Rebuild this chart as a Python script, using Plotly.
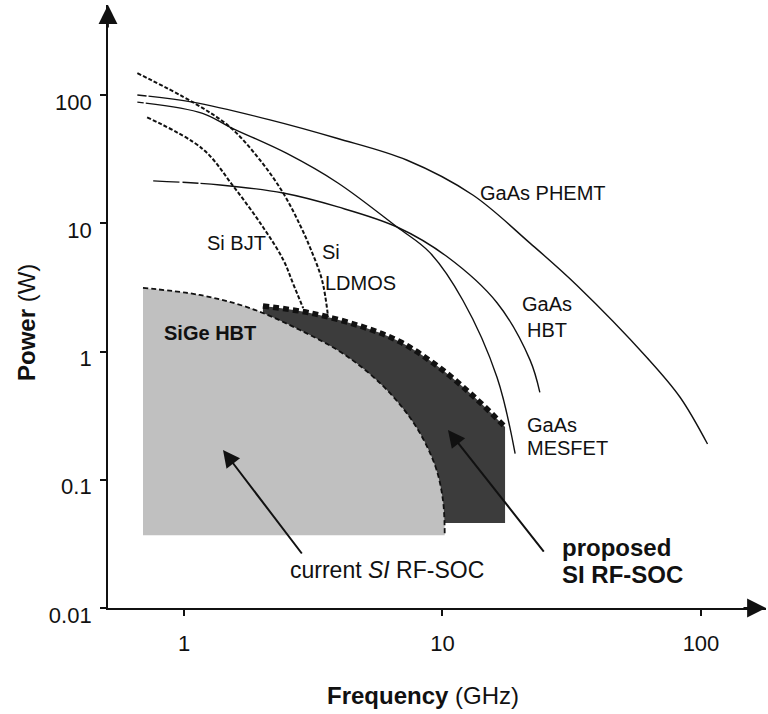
import numpy as np
import plotly.graph_objects as go

# ---------------- data (frequency in GHz, power in W) ----------------
phemt_f = [0.66, 1.08, 2.15, 3.9, 7.3, 13.1, 21.8, 33, 62, 83, 106]
phemt_p = [100, 88, 64, 46, 31, 16.6, 7.0, 3.3, 0.89, 0.44, 0.19]

mesfet_f = [0.66, 1.18, 1.51, 2.5, 3.94, 6.67, 8.94, 12.0, 16.25, 19.1]
mesfet_p = [88, 72, 56, 35, 20.6, 9.35, 5.9, 2.5, 0.63, 0.16]

gaas_hbt_f = [0.76, 1.38, 2.42, 3.94, 6.67, 10.4, 16.25, 21.8, 23.8]
gaas_hbt_p = [21.4, 19.9, 17.2, 13.4, 9.35, 5.5, 2.4, 0.86, 0.48]

si_bjt_f = [0.72, 1.18, 1.55, 2.02, 2.42, 2.64, 2.89]
si_bjt_p = [67, 38, 19.5, 9.35, 5.2, 3.4, 2.18]

ldmos_f = [0.66, 1.08, 1.51, 1.97, 2.42, 2.81, 3.10, 3.42, 3.61]
ldmos_p = [148, 88, 56, 31, 17.2, 9.7, 6.2, 3.6, 1.86]

sige_f = [0.694, 1.15, 1.80, 2.81, 4.20, 5.99, 7.83, 9.35, 10.04, 10.2]
sige_p = [3.13, 2.76, 2.18, 1.47, 0.94, 0.52, 0.267, 0.130, 0.0695, 0.037]
sige_floor = 0.037

proposed_f = [2.02, 3.07, 4.80, 6.85, 9.78, 13.4, 17.46]
proposed_p = [2.26, 2.00, 1.58, 1.19, 0.744, 0.434, 0.258]
proposed_floor = 0.046

x_ticks = [1, 10, 100]
x_ticktext = ["1", "10", "100"]
y_ticks = [0.01, 0.1, 1, 10, 100]
y_ticktext = ["0.01", "0.1", "1", "10", "100"]

FONT = "Liberation Sans, Arial, sans-serif"
INK = "#111111"
LIGHT = "#c0c0c0"
DARK = "#3c3c3c"

fig = go.Figure()

# proposed Si RF-SOC region (dark)
fig.add_trace(go.Scatter(x=[proposed_f[0], proposed_f[-1]],
                         y=[proposed_floor, proposed_floor],
                         mode="lines", line=dict(width=0), hoverinfo="skip"))
fig.add_trace(go.Scatter(x=proposed_f, y=proposed_p, mode="lines",
                         line=dict(color=INK, width=5.5, dash="6px,4px", shape="spline"),
                         fill="tonexty", fillcolor=DARK, hoverinfo="skip"))

# current SiGe HBT region (light)
fig.add_trace(go.Scatter(x=[sige_f[0], sige_f[-1]], y=[sige_floor, sige_floor],
                         mode="lines", line=dict(width=0), hoverinfo="skip"))
fig.add_trace(go.Scatter(x=sige_f, y=sige_p, mode="lines",
                         line=dict(color=INK, width=1.8, dash="5px,3px", shape="spline"),
                         fill="tonexty", fillcolor=LIGHT, hoverinfo="skip"))

# device curves
fig.add_trace(go.Scatter(x=phemt_f, y=phemt_p, mode="lines",
                         line=dict(color=INK, width=1.4, shape="spline", dash="9px,2px,2000px")))
fig.add_trace(go.Scatter(x=mesfet_f, y=mesfet_p, mode="lines",
                         line=dict(color=INK, width=1.4, shape="spline", dash="6px,2px,2000px")))
fig.add_trace(go.Scatter(x=gaas_hbt_f, y=gaas_hbt_p, mode="lines",
                         line=dict(color=INK, width=1.4, shape="spline",
                                   dash="26px,3px,16px,2px,2000px")))
fig.add_trace(go.Scatter(x=si_bjt_f, y=si_bjt_p, mode="lines",
                         line=dict(color=INK, width=2, shape="spline", dash="4px,2px")))
fig.add_trace(go.Scatter(x=ldmos_f, y=ldmos_p, mode="lines",
                         line=dict(color=INK, width=2, shape="spline", dash="4px,2px")))

ann = []


def label(text, f, p, size=20, xanchor="center", bold=False):
    ann.append(dict(x=np.log10(f), y=np.log10(p), xref="x", yref="y",
                    text=f"<b>{text}</b>" if bold else text, showarrow=False,
                    xanchor=xanchor, yanchor="middle",
                    font=dict(family=FONT, size=size, color=INK)))


label("GaAs PHEMT", 24.5, 17.2)
label("GaAs", 25.4, 2.34)
label("HBT", 25.4, 1.47)
label("GaAs", 20.85, 0.267, xanchor="left")
label("MESFET", 20.85, 0.177, xanchor="left")
label("Si BJT", 1.60, 7.01)
label("Si", 3.36, 5.97, xanchor="left")
label("LDMOS", 3.45, 3.42, xanchor="left")
label("SiGe HBT", 1.26, 1.39, size=20, bold=True)
label("current <i>SI</i> RF-SOC", 6.10, 0.0198, size=23)
label("proposed", 28.5, 0.0299, size=24, xanchor="left", bold=True)
label("SI RF-SOC", 28.5, 0.0181, size=24, xanchor="left", bold=True)

# pointer arrows
for f, p, ax, ay in [(1.415, 0.1706, 80, 105), (10.5, 0.244, 97, 123)]:
    ann.append(dict(x=np.log10(f), y=np.log10(p), xref="x", yref="y", text="",
                    showarrow=True, ax=ax, ay=ay, arrowhead=2, arrowsize=1.7,
                    arrowwidth=2, arrowcolor=INK))

# axis arrowheads
ann.append(dict(x=0, y=1, xref="paper", yref="paper", text="", showarrow=True,
                ax=0, ay=24, arrowhead=2, arrowsize=2.1, arrowwidth=1.8, arrowcolor=INK))
ann.append(dict(x=1, y=0, xref="paper", yref="paper", text="", showarrow=True,
                ax=-24, ay=0, arrowhead=2, arrowsize=2.1, arrowwidth=1.8, arrowcolor=INK))

# axis titles
ann.append(dict(x=0.4787, y=-0.1443, xref="paper", yref="paper",
                text="<b>Frequency</b> (GHz)", showarrow=False,
                xanchor="center", yanchor="middle",
                font=dict(family=FONT, size=24, color=INK)))
ann.append(dict(x=-0.1246, y=0.4726, xref="paper", yref="paper",
                text="<b>Power</b> (W)", showarrow=False, textangle=-90,
                xanchor="center", yanchor="middle",
                font=dict(family=FONT, size=24, color=INK)))

fig.update_layout(
    width=768, height=714,
    margin=dict(l=108, r=2, t=5, b=106, autoexpand=False),
    paper_bgcolor="white", plot_bgcolor="white",
    showlegend=False,
    annotations=ann,
    xaxis=dict(type="log", range=[-0.294, 2.2515], showgrid=False, zeroline=False,
               showline=True, linecolor=INK, linewidth=1.8,
               tickvals=x_ticks, ticktext=x_ticktext, ticks="outside", ticklen=6,
               tickcolor=INK, tickwidth=1.5, ticklabelstandoff=9,
               tickfont=dict(family=FONT, size=22, color=INK)),
    yaxis=dict(type="log", range=[-2.0, 2.7018], showgrid=False, zeroline=False,
               showline=True, linecolor=INK, linewidth=1.8,
               tickvals=y_ticks, ticktext=y_ticktext, ticks="outside", ticklen=6,
               tickcolor=INK, tickwidth=1.5, ticklabelstandoff=4, ticklabelshift=7,
               tickfont=dict(family=FONT, size=22, color=INK)),
)

fig.write_html("out.html")
